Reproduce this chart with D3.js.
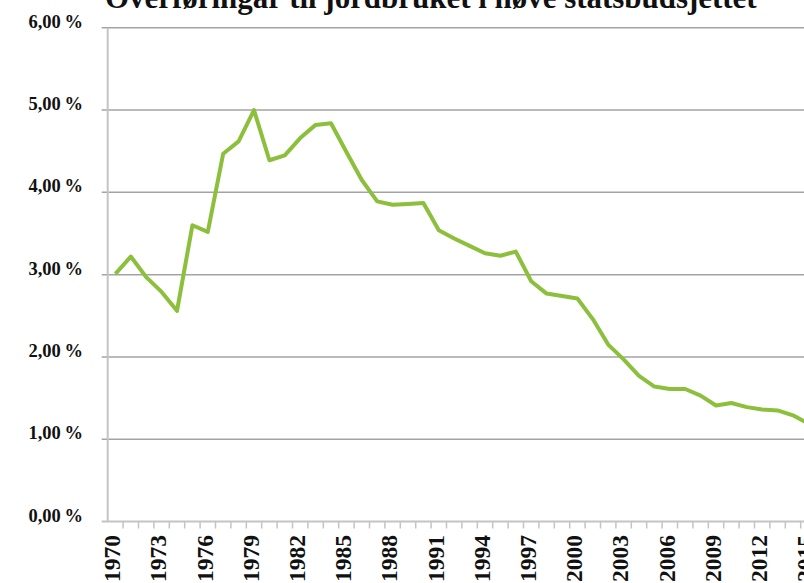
<!DOCTYPE html>
<html>
<head>
<meta charset="utf-8">
<script src="https://cdn.jsdelivr.net/npm/d3@7"></script>
<style>
  body { margin: 0; background: #fff; }
  svg { display: block; }
  text { font-family: "Liberation Serif", "Times New Roman", serif; font-weight: bold; fill: #111; }
</style>
</head>
<body>
<div id="chart"></div>
<script>
var titleText = "Overføringar til jordbruket i høve statsbudsjettet";

var years = [1970,1971,1972,1973,1974,1975,1976,1977,1978,1979,
             1980,1981,1982,1983,1984,1985,1986,1987,1988,1989,
             1990,1991,1992,1993,1994,1995,1996,1997,1998,1999,
             2000,2001,2002,2003,2004,2005,2006,2007,2008,2009,
             2010,2011,2012,2013,2014,2015];

var shares = [3.01,3.22,2.97,2.79,2.56,3.60,3.52,4.47,4.62,5.00,
              4.39,4.45,4.66,4.82,4.84,4.49,4.15,3.89,3.85,3.86,
              3.87,3.54,3.44,3.35,3.26,3.23,3.28,2.92,2.77,2.74,
              2.71,2.46,2.15,1.97,1.77,1.64,1.61,1.61,1.53,1.41,
              1.44,1.39,1.36,1.35,1.29,1.19];

var yTicks = [0,1,2,3,4,5,6];
var xLabels = [1970,1973,1976,1979,1982,1985,1988,1991,1994,1997,2000,2003,2006,2009,2012,2015];

var width = 804, height = 583;
var axisX = 107.7, step = 15.4;
var plotBottom = 521.5, plotTop = 27.8;

var svg = d3.select("#chart").append("svg")
	.attr("width", width)
	.attr("height", height);

var x = d3.scaleBand()
	.domain(years)
	.range([axisX, axisX + years.length * step]);

var y = d3.scaleLinear()
	.domain([0, 6])
	.range([plotBottom, plotTop]);

// gridlines + y labels
svg.append("g").selectAll("line")
	.data(yTicks.filter(function(d) { return d > 0; }))
	.enter().append("line")
	.attr("x1", axisX - 6)
	.attr("x2", width + 20)
	.attr("y1", function(d) { return y(d); })
	.attr("y2", function(d) { return y(d); })
	.attr("stroke", "#a3a3a6")
	.attr("stroke-width", 1.5);

var fmt = d3.format(".2f");
svg.append("g").selectAll("text")
	.data(yTicks)
	.enter().append("text")
	.attr("x", 83)
	.attr("y", function(d) { return y(d); })
	.attr("text-anchor", "end")
	.style("font-size", "18.5px")
	.text(function(d) { return fmt(d).replace(".", ",") + "\u2009%"; });

// y axis line
svg.append("line")
	.attr("x1", axisX).attr("x2", axisX)
	.attr("y1", plotTop).attr("y2", plotBottom)
	.attr("stroke", "#c4c4c6")
	.attr("stroke-width", 2);

// x axis line and ticks
svg.append("line")
	.attr("x1", axisX - 6).attr("x2", width + 20)
	.attr("y1", plotBottom).attr("y2", plotBottom)
	.attr("stroke", "#c4c4c6")
	.attr("stroke-width", 2);

svg.append("g").selectAll("line")
	.data(years)
	.enter().append("line")
	.attr("x1", function(d) { return x(d) + step; })
	.attr("x2", function(d) { return x(d) + step; })
	.attr("y1", plotBottom)
	.attr("y2", plotBottom + 7)
	.attr("stroke", "#c4c4c6")
	.attr("stroke-width", 1.5);

svg.append("g").selectAll("text")
	.data(xLabels)
	.enter().append("text")
	.attr("transform", function(d) {
		return "translate(" + (x(d) + x.bandwidth() / 2) + "," + 535 + ") rotate(-90)";
	})
	.attr("dy", "0.2em")
	.attr("text-anchor", "end")
	.style("font-size", "23.5px")
	.text(function(d) { return d; });

// the line
var line = d3.line()
	.x(function(d, i) { return x(years[i]) + x.bandwidth() / 2; })
	.y(function(d) { return y(d); });

svg.append("path")
	.datum(shares)
	.attr("d", line)
	.attr("fill", "none")
	.attr("stroke", "#8cbf3c")
	.attr("stroke-width", 4)
	.attr("stroke-linejoin", "round");

// title, partly cut off at the top like in the source image
var title = svg.append("text")
	.attr("x", 105)
	.attr("y", 7.5)
	.style("font-size", "28px")
	.text(titleText);
var w = title.node().getComputedTextLength();
title.style("font-size", (28 * 652 / w) + "px");
</script>
</body>
</html>
